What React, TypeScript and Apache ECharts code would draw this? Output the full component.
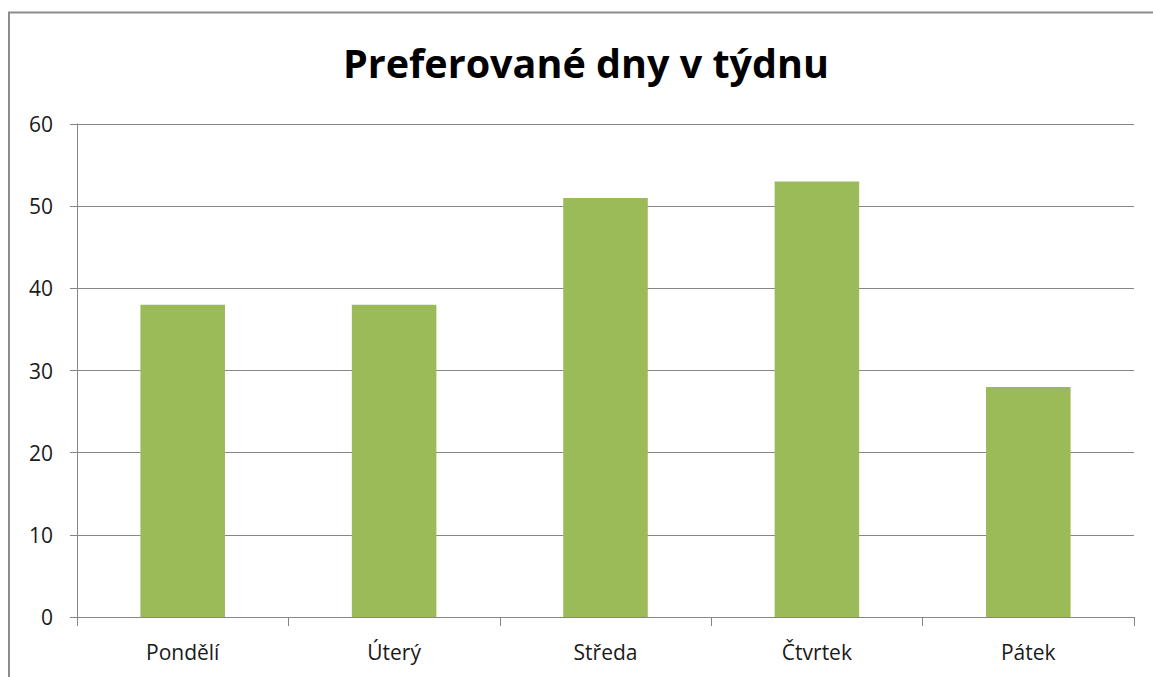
import React, { useEffect, useRef } from "react";
import * as echarts from "echarts";

const title = "Preferované dny v týdnu";
const categories = ["Pondělí", "Úterý", "Středa", "Čtvrtek", "Pátek"];
const values = [38, 38, 51, 53, 28];

export default function App() {
  const ref = useRef<HTMLDivElement>(null);
  useEffect(() => {
    const chart = echarts.init(ref.current!, undefined, { renderer: "svg" });
    const font = "'Open Sans', 'Noto Sans', sans-serif";
    chart.setOption({
      animation: false,
      backgroundColor: "#ffffff",
      title: {
        text: title,
        left: 338,
        top: 38,
        textStyle: { fontFamily: font, fontWeight: "bold", fontSize: 39.5, color: "#000" },
      },
      graphic: [
        {
          type: "rect",
          shape: { x: 9, y: 12.5, width: 1300, height: 800 },
          style: { fill: "none", stroke: "#8c8c8c", lineWidth: 2 },
          silent: true,
        },
      ],
      grid: { left: 77, right: 19, top: 124, bottom: 60 },
      xAxis: {
        type: "category",
        data: categories,
        boundaryGap: true,
        axisLine: { lineStyle: { color: "#868686", width: 1 } },
        axisTick: { show: true, length: 9, lineStyle: { color: "#868686" } },
        axisLabel: { fontFamily: font, fontSize: 21, color: "#1a1a1a", margin: 24 },
      },
      yAxis: {
        type: "value",
        min: 0,
        max: 60,
        interval: 10,
        axisLine: { show: true, lineStyle: { color: "#868686", width: 1 } },
        axisTick: { show: true, length: 7, lineStyle: { color: "#868686" } },
        axisLabel: { fontFamily: font, fontSize: 21, color: "#1a1a1a", margin: 24 },
        splitLine: { lineStyle: { color: "#868686", width: 1 } },
      },
      series: [
        {
          type: "bar",
          data: values,
          barWidth: "40%",
          itemStyle: { color: "#9bbb59" },
        },
      ],
    });
    return () => chart.dispose();
  }, []);
  return (
    <div
      ref={ref}
      style={{ position: "fixed", left: 0, top: 0, width: 1153, height: 677 }}
    />
  );
}
